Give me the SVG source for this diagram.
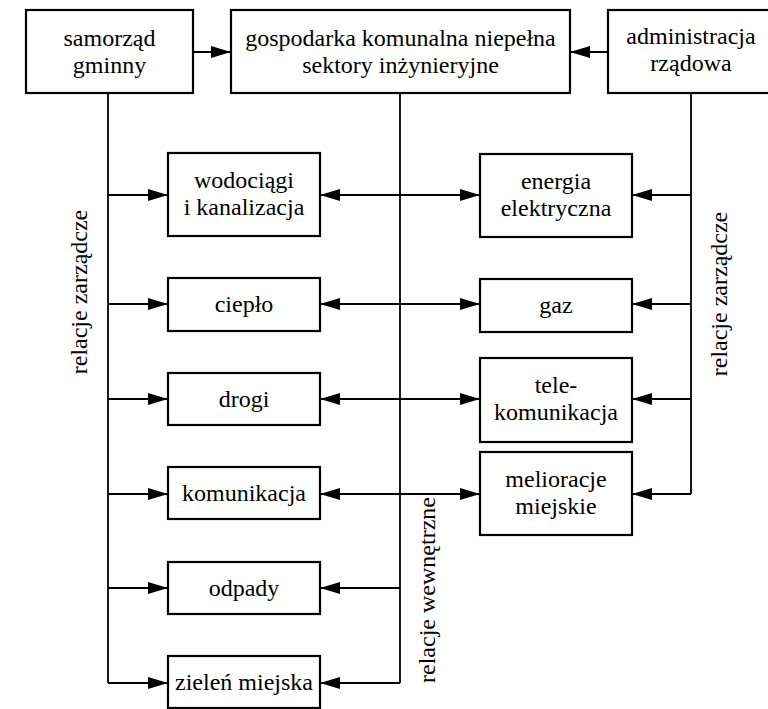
<svg xmlns="http://www.w3.org/2000/svg" width="768" height="709" viewBox="0 0 768 709">
  <style>
    .box { fill: #ffffff; stroke: #000000; stroke-width: 2.2; }
    .lbl { font-family: "Liberation Serif", "Times New Roman", serif; font-size: 24px; fill: #000000; text-anchor: middle; }
    .wire { fill: none; stroke: #000000; stroke-width: 1.8; }
    .arr { marker-end: url(#head); }
  </style>
  <defs>
    <marker id="head" markerUnits="userSpaceOnUse" markerWidth="21" markerHeight="12" refX="20" refY="6" orient="auto">
      <path d="M0,0 L20,6 L0,12 z" fill="#000000"/>
    </marker>
  </defs>
  <rect width="768" height="709" fill="#ffffff"/>

  <!-- connectors -->
  <g id="connectors" class="wire">
    <!-- top level -->
    <path class="arr" d="M193,52 H231"/>
    <path class="arr" d="M608,52 H570"/>
    <!-- left trunk: samorzad gminny -->
    <path d="M108,93 V683"/>
    <path class="arr" d="M108,195 H168"/>
    <path class="arr" d="M108,304 H168"/>
    <path class="arr" d="M108,399 H168"/>
    <path class="arr" d="M108,494 H168"/>
    <path class="arr" d="M108,588 H168"/>
    <path class="arr" d="M108,683 H168"/>
    <!-- middle trunk: gospodarka komunalna -->
    <path d="M400,93 V683"/>
    <path class="arr" d="M400,195 H320"/>
    <path class="arr" d="M400,304 H320"/>
    <path class="arr" d="M400,399 H320"/>
    <path class="arr" d="M400,494 H320"/>
    <path class="arr" d="M400,588 H320"/>
    <path class="arr" d="M400,683 H320"/>
    <path class="arr" d="M400,195 H480"/>
    <path class="arr" d="M400,304 H480"/>
    <path class="arr" d="M400,399 H480"/>
    <path class="arr" d="M400,494 H480"/>
    <!-- right trunk: administracja rzadowa -->
    <path d="M691,93 V494"/>
    <path class="arr" d="M691,195 H632"/>
    <path class="arr" d="M691,304 H632"/>
    <path class="arr" d="M691,399 H632"/>
    <path class="arr" d="M691,494 H632"/>
  </g>

  <!-- top row -->
  <g id="samorzad">
    <rect class="box" x="26" y="10" width="167" height="83"/>
    <text class="lbl" x="109.5" y="46">samorząd</text>
    <text class="lbl" x="109.5" y="73">gminny</text>
  </g>
  <g id="gospodarka">
    <rect class="box" x="231" y="10" width="339" height="83"/>
    <text class="lbl" x="400.5" y="46">gospodarka komunalna niepełna</text>
    <text class="lbl" x="400.5" y="73">sektory inżynieryjne</text>
  </g>
  <g id="administracja">
    <rect class="box" x="608" y="10" width="167" height="83"/>
    <text class="lbl" x="691" y="44">administracja</text>
    <text class="lbl" x="691" y="71">rządowa</text>
  </g>

  <!-- left column -->
  <g id="wodociagi">
    <rect class="box" x="168" y="153" width="152" height="83"/>
    <text class="lbl" x="244" y="188">wodociągi</text>
    <text class="lbl" x="244" y="215">i kanalizacja</text>
  </g>
  <g id="cieplo">
    <rect class="box" x="168" y="278" width="152" height="53"/>
    <text class="lbl" x="244" y="312">ciepło</text>
  </g>
  <g id="drogi">
    <rect class="box" x="168" y="373" width="152" height="52"/>
    <text class="lbl" x="244" y="407">drogi</text>
  </g>
  <g id="komunikacja">
    <rect class="box" x="168" y="467" width="152" height="52"/>
    <text class="lbl" x="244" y="501">komunikacja</text>
  </g>
  <g id="odpady">
    <rect class="box" x="168" y="562" width="152" height="52"/>
    <text class="lbl" x="244" y="596">odpady</text>
  </g>
  <g id="zielen">
    <rect class="box" x="168" y="656" width="152" height="52"/>
    <text class="lbl" x="244" y="690">zieleń miejska</text>
  </g>

  <!-- right column -->
  <g id="energia">
    <rect class="box" x="480" y="154" width="152" height="83"/>
    <text class="lbl" x="556" y="189">energia</text>
    <text class="lbl" x="556" y="216">elektryczna</text>
  </g>
  <g id="gaz">
    <rect class="box" x="480" y="279" width="152" height="53"/>
    <text class="lbl" x="556" y="313">gaz</text>
  </g>
  <g id="telekomunikacja">
    <rect class="box" x="480" y="358" width="152" height="84"/>
    <text class="lbl" x="556" y="393">tele-</text>
    <text class="lbl" x="556" y="420">komunikacja</text>
  </g>
  <g id="melioracje">
    <rect class="box" x="480" y="452" width="152" height="83"/>
    <text class="lbl" x="556" y="487">melioracje</text>
    <text class="lbl" x="556" y="514">miejskie</text>
  </g>

  <!-- relation labels -->
  <g id="labels">
    <text class="lbl" transform="translate(87,292) rotate(-90)">relacje zarządcze</text>
    <text class="lbl" transform="translate(727,294) rotate(-90)">relacje zarządcze</text>
    <text class="lbl" transform="translate(435,590) rotate(-90)">relacje wewnętrzne</text>
  </g>
</svg>
